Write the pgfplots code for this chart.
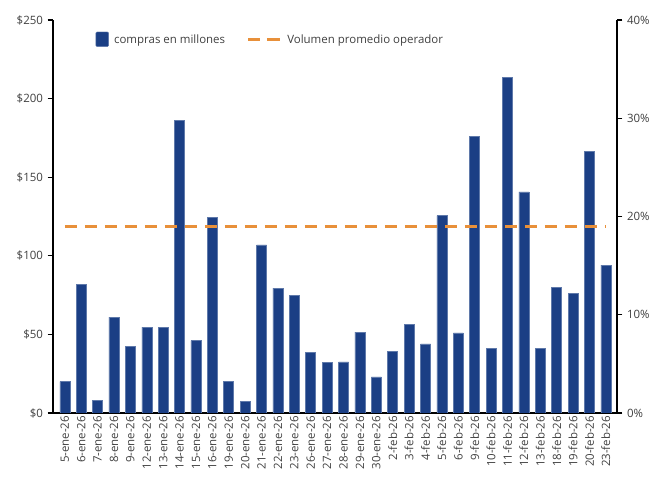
\documentclass[border=0pt]{standalone}
\usepackage{pgfplots}
\pgfplotsset{compat=1.18}
\usepackage{fontspec}
\setmainfont{Open Sans}
\definecolor{barblue}{HTML}{1B3F85}
\definecolor{dashorange}{HTML}{E8903A}
\definecolor{txt}{HTML}{404040}
\pgfplotstableread{
x val
0 20
1 82
2 8
3 61
4 42.6
5 54.7
6 54.7
7 186
8 46
9 124.5
10 20
11 7.6
12 107
13 79.5
14 75
15 38.8
16 32
17 32.5
18 51.5
19 23
20 39
21 56.6
22 44
23 125.5
24 51
25 176
26 41
27 213.5
28 140.6
29 41
30 80
31 76
32 166.5
33 94
}\compras
\begin{document}
\begin{tikzpicture}[font=\fontsize{8.6}{10.5}\selectfont]
\begin{axis}[name=ax,
  scale only axis, width=423pt, height=294.75pt,
  xmin=-0.72, xmax=33.68, ymin=0, ymax=250,
  axis x line*=bottom, axis y line*=left,
  axis line style={black, line width=0.8pt, -},
  ytick={0,50,100,150,200,250},
  yticklabel={\$\pgfmathprintnumber{\tick}},
  /pgf/number format/assume math mode=true,
  xtick=data,
  xticklabels={5-ene-26,6-ene-26,7-ene-26,8-ene-26,9-ene-26,12-ene-26,13-ene-26,14-ene-26,15-ene-26,16-ene-26,19-ene-26,20-ene-26,21-ene-26,22-ene-26,23-ene-26,26-ene-26,27-ene-26,28-ene-26,29-ene-26,30-ene-26,2-feb-26,3-feb-26,4-feb-26,5-feb-26,6-feb-26,9-feb-26,10-feb-26,11-feb-26,12-feb-26,13-feb-26,18-feb-26,19-feb-26,20-feb-26,23-feb-26},
  x tick label style={rotate=90, anchor=east, text=txt, inner sep=2pt},
  y tick label style={text=txt},
  x tick style={black, line width=0.8pt},
  y tick style={black, line width=0.8pt},
  xtick align=inside, ytick align=outside,
  major tick length=4pt,
  tick pos=left,
]
\addplot[ybar, bar width=7.5pt, fill=barblue, draw=barblue!70!white, line width=0.4pt] table[x=x,y=val]{\compras};
\end{axis}
\begin{axis}[
  scale only axis, width=423pt, height=294.75pt,
  xmin=-0.72, xmax=33.68, ymin=0, ymax=40,
  axis x line=none, axis y line*=right,
  axis line style={black, line width=0.8pt, -},
  ytick={0,10,20,30,40},
  yticklabel={\pgfmathprintnumber{\tick}\%},
  /pgf/number format/assume math mode=true,
  y tick label style={text=txt},
  y tick style={black, line width=0.8pt},
  ytick align=outside, major tick length=4pt,
  legend columns=2,
  legend style={draw=none, fill=none, at={(0.386,0.949)}, anchor=center, font=\fontsize{8.6}{10.5}\selectfont, text=txt,
    /tikz/every even column/.append style={column sep=14pt},
    /tikz/every odd column/.append style={column sep=2pt}},
]
\addlegendimage{legend image code/.code={\fill[barblue, draw=barblue!70!white, line width=0.3pt, rounded corners=0.8pt] (0pt,-4.8pt) rectangle (9.5pt,6.2pt);}}
\addlegendentry{compras en millones}
\addplot[dashorange, line width=2.2pt, dash pattern=on 9pt off 6pt,
  legend image code/.code={\draw[dashorange, line width=2.6pt, solid] (0pt,0.5pt) -- (9pt,0.5pt); \draw[dashorange, line width=2.6pt, solid] (14pt,0.5pt) -- (24pt,0.5pt);}] coordinates {(0,19) (33,19)};
\addlegendentry{Volumen promedio operador}
\end{axis}
\pgfresetboundingbox
\path[use as bounding box] ([xshift=-39.75pt,yshift=-53.25pt]ax.south west) rectangle ([xshift=27pt,yshift=15pt]ax.north east);
\end{tikzpicture}
\end{document}
